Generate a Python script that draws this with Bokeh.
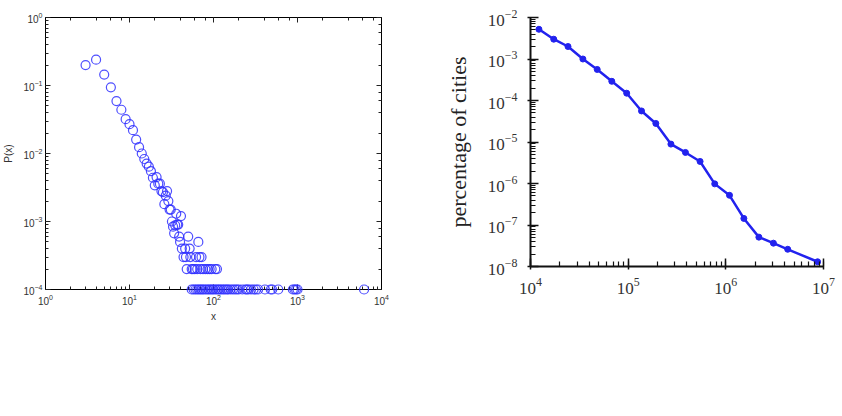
from bokeh.plotting import figure
from bokeh.layouts import row
from bokeh.models import LogAxis, Label, CustomJSTickFormatter
from bokeh.embed import file_html
from bokeh.resources import INLINE

# ---------------- data: (a) synthetic power-law ----------------
x_a = [3, 4, 5, 6, 7, 8, 9, 10, 11, 12, 13, 14, 15, 16, 17, 18, 19, 20, 21, 22,
       23, 24, 25, 26, 27, 28, 29, 30, 31, 32, 33, 34, 35, 36, 37, 38, 39, 40, 41,
       42, 44, 46, 47, 48, 50, 52, 53, 55, 57, 60, 62, 64, 66, 68, 70, 72, 75, 80,
       85, 90, 95, 105, 110,
       55, 58, 61, 64, 67, 70, 73, 76, 80, 84, 88, 92, 96, 100, 105, 110, 115, 120,
       126, 132, 138, 145, 150, 160, 170, 180, 190, 200, 220, 240, 250, 260, 280,
       300, 320, 340, 410, 480, 500, 590, 880, 920, 960, 1000, 6200]
y_a = [0.2, 0.24, 0.145, 0.094, 0.059, 0.044, 0.032, 0.027, 0.022, 0.016, 0.0124,
       0.010, 0.0083, 0.0071, 0.0064, 0.0055, 0.0044, 0.0034, 0.0045, 0.0036,
       0.0036, 0.0028, 0.0027, 0.0018, 0.0024, 0.0028, 0.002, 0.0015, 0.0015,
       0.001, 0.00084, 0.00067, 0.00088, 0.0013, 0.0009, 0.0009, 0.0006, 0.0005,
       0.0012, 0.0004, 0.0003, 0.0004, 0.0003, 0.0002, 0.0006, 0.0004, 0.0003,
       0.0002, 0.0002, 0.0002, 0.0003, 0.0002, 0.0005, 0.0003, 0.0002, 0.0003,
       0.0002, 0.0002, 0.0002, 0.0002, 0.0002, 0.0002, 0.0002] + [0.0001] * 45

# ---------------- data: (b) US cities Zipf ----------------
x_b = [1.22e4, 1.73e4, 2.42e4, 3.44e4, 4.82e4, 6.8e4, 9.66e4, 1.37e5, 1.92e5,
       2.74e5, 3.86e5, 5.45e5, 7.7e5, 1.09e6, 1.53e6, 2.18e6, 3.07e6, 4.3e6, 8.7e6]
y_b = [5.2e-3, 3.0e-3, 2.0e-3, 1.0e-3, 5.6e-4, 2.9e-4, 1.5e-4, 5.6e-5, 2.8e-5,
       8.9e-6, 5.6e-6, 3.4e-6, 9.8e-7, 5.2e-7, 1.44e-7, 5.1e-8, 3.65e-8, 2.6e-8,
       1.3e-8]

cap_a1_bold = "(a)"
cap_a1 = "Power-law distribution of syn-"
cap_a2 = "thetic data"
cap_b1_bold = "(b)"
cap_b1 = "Zipf-law distribution of US"
cap_b2 = "cities population"

SANS = "Liberation Sans"
SERIF = "Liberation Serif"
CAP_SIZE = "29px"

# ---------------- panel (a) ----------------
pa = figure(x_axis_type="log", y_axis_type="log",
            x_range=(1, 1e4), y_range=(1e-4, 1),
            frame_width=336, frame_height=272,
            min_border_left=42, min_border_right=35,
            min_border_top=6, min_border_bottom=122,
            output_backend="svg", toolbar_location=None)
pa.grid.visible = False
pa.outline_line_color = "black"
pa.outline_line_width = 1
pa.background_fill_color = "white"
pa.border_fill_color = "white"

for ax in (pa.xaxis[0], pa.yaxis[0]):
    ax.major_tick_in = 5
    ax.major_tick_out = 0
    ax.minor_tick_in = 3
    ax.minor_tick_out = 0
    ax.axis_line_color = "black"
    ax.major_tick_line_color = "#222"
    ax.minor_tick_line_color = "#222"
    ax.major_label_text_font = SANS
    ax.major_label_text_font_size = "10px"
    ax.major_label_text_color = "#333"
    ax.axis_label_text_font = SANS
    ax.axis_label_text_font_size = "10px"
    ax.axis_label_text_font_style = "normal"
    ax.axis_label_text_color = "#333"

pa.xaxis[0].axis_label = "x"
pa.xaxis[0].major_label_standoff = 4
pa.xaxis[0].axis_label_standoff = 3
pa.yaxis[0].axis_label = "P(x)"
pa.yaxis[0].major_label_standoff = 3
pa.yaxis[0].axis_label_standoff = 6

for loc in ("above", "right"):
    ax = LogAxis(major_tick_in=5, major_tick_out=0, minor_tick_in=3, minor_tick_out=0,
                 formatter=CustomJSTickFormatter(code="return ''"),
                 axis_line_color="black",
                 major_tick_line_color="#222", minor_tick_line_color="#222",
                 major_label_standoff=0)
    pa.add_layout(ax, loc)

ra = pa.scatter(x_a, y_a, marker="circle", size=9, fill_color=None,
                line_color="#2f2fff", line_width=1.2, line_alpha=0.85,
                level="overlay")

pa.add_layout(Label(x=-41, y=-42, x_units="screen", y_units="screen",
                    text=cap_a1_bold, text_font=SERIF, text_font_size=CAP_SIZE,
                    text_font_style="bold italic", text_baseline="middle",
                    text_align="left", text_color="black"))
pa.add_layout(Label(x=0, y=-42, x_units="screen", y_units="screen",
                    text=cap_a1, text_font=SERIF, text_font_size=CAP_SIZE,
                    text_font_style="italic", text_baseline="middle",
                    text_align="left", text_color="black"))
pa.add_layout(Label(x=150, y=-81, x_units="screen", y_units="screen",
                    text=cap_a2, text_font=SERIF, text_font_size=CAP_SIZE,
                    text_font_style="italic", text_baseline="middle",
                    text_align="center", text_color="black"))

# ---------------- panel (b) ----------------
pb = figure(x_axis_type="log", y_axis_type="log",
            x_range=(1e4, 1e7), y_range=(1e-8, 1e-2),
            frame_width=293, frame_height=249,
            min_border_left=114, min_border_right=14,
            min_border_top=17, min_border_bottom=134,
            output_backend="svg", toolbar_location=None)
pb.grid.visible = False
pb.outline_line_color = None
pb.background_fill_color = "white"
pb.border_fill_color = "white"

for ax in (pb.xaxis[0], pb.yaxis[0]):
    ax.axis_line_color = "#111"
    ax.axis_line_width = 2
    ax.major_tick_in = 8
    ax.major_tick_out = 3
    ax.minor_tick_in = 5
    ax.minor_tick_out = 0
    ax.major_tick_line_width = 1.5
    ax.minor_tick_line_width = 1.2
    ax.major_tick_line_color = "#111"
    ax.minor_tick_line_color = "#111"
    ax.major_label_text_font = SERIF
    ax.major_label_text_font_size = "17px"
    ax.major_label_text_color = "#333"
    ax.axis_label_text_font = SERIF
    ax.axis_label_text_font_style = "normal"
    ax.axis_label_text_color = "#222"

pb.xaxis[0].major_label_standoff = 8
pb.yaxis[0].major_label_standoff = 10
pb.yaxis[0].axis_label = "percentage of cities"
pb.yaxis[0].axis_label_text_font_size = "22px"
pb.yaxis[0].axis_label_standoff = 14

pb.line(x_b, y_b, line_color="#2222ee", line_width=2.5)
pb.scatter(x_b, y_b, marker="circle", size=6, fill_color="#2222ee",
           line_color="#2222ee")

pb.add_layout(Label(x=-69, y=-54, x_units="screen", y_units="screen",
                    text=cap_b1_bold, text_font=SERIF, text_font_size=CAP_SIZE,
                    text_font_style="bold italic", text_baseline="middle",
                    text_align="left", text_color="black"))
pb.add_layout(Label(x=-28, y=-54, x_units="screen", y_units="screen",
                    text=cap_b1, text_font=SERIF, text_font_size=CAP_SIZE,
                    text_font_style="italic", text_baseline="middle",
                    text_align="left", text_color="black"))
pb.add_layout(Label(x=109, y=-93, x_units="screen", y_units="screen",
                    text=cap_b2, text_font=SERIF, text_font_size=CAP_SIZE,
                    text_font_style="italic", text_baseline="middle",
                    text_align="center", text_color="black"))

layout = row(pa, pb, spacing=0)
open("out.html", "w").write(file_html(layout, INLINE))
